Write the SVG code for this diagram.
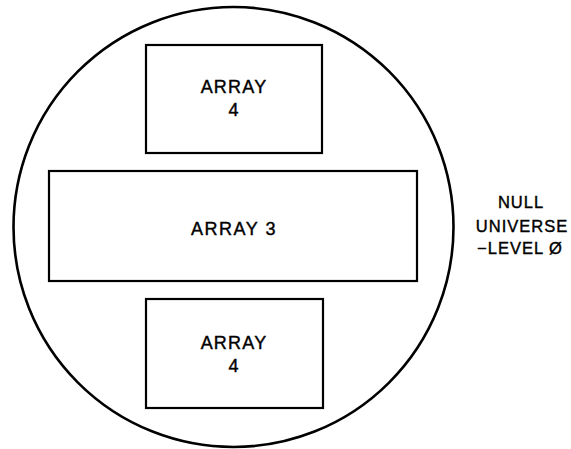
<svg xmlns="http://www.w3.org/2000/svg" width="571" height="449" viewBox="0 0 571 449">
<style>
.box{fill:none;stroke:#000;stroke-width:2.2}
.t{font-family:"Liberation Sans",Arial,sans-serif;font-size:18px;fill:#000;stroke:#000;stroke-width:0.4;text-anchor:middle;letter-spacing:1.2px}
.lab{font-family:"Liberation Sans",Arial,sans-serif;font-size:16.5px;fill:#000;stroke:#000;stroke-width:0.4;text-anchor:middle;letter-spacing:1px}
</style>
<rect width="571" height="449" fill="#fff"/>
<g id="universe">
<circle cx="233.5" cy="227" r="220" fill="none" stroke="#000" stroke-width="2.6"/>
<text class="lab" x="521" y="208">NULL</text>
<text class="lab" x="522" y="232">UNIVERSE</text>
<text class="lab" x="520" y="254">−LEVEL Ø</text>
</g>
<g id="array4-top">
<rect class="box" x="146" y="45" width="176" height="108"/>
<text class="t" x="234" y="93">ARRAY</text>
<text class="t" x="234" y="116">4</text>
</g>
<g id="array3">
<rect class="box" x="49" y="171" width="368" height="110"/>
<text class="t" x="234" y="235" style="letter-spacing:1.5px">ARRAY 3</text>
</g>
<g id="array4-bottom">
<rect class="box" x="146" y="299" width="177" height="109"/>
<text class="t" x="234" y="349">ARRAY</text>
<text class="t" x="234" y="372">4</text>
</g>
<g id="connectors"></g>
</svg>
